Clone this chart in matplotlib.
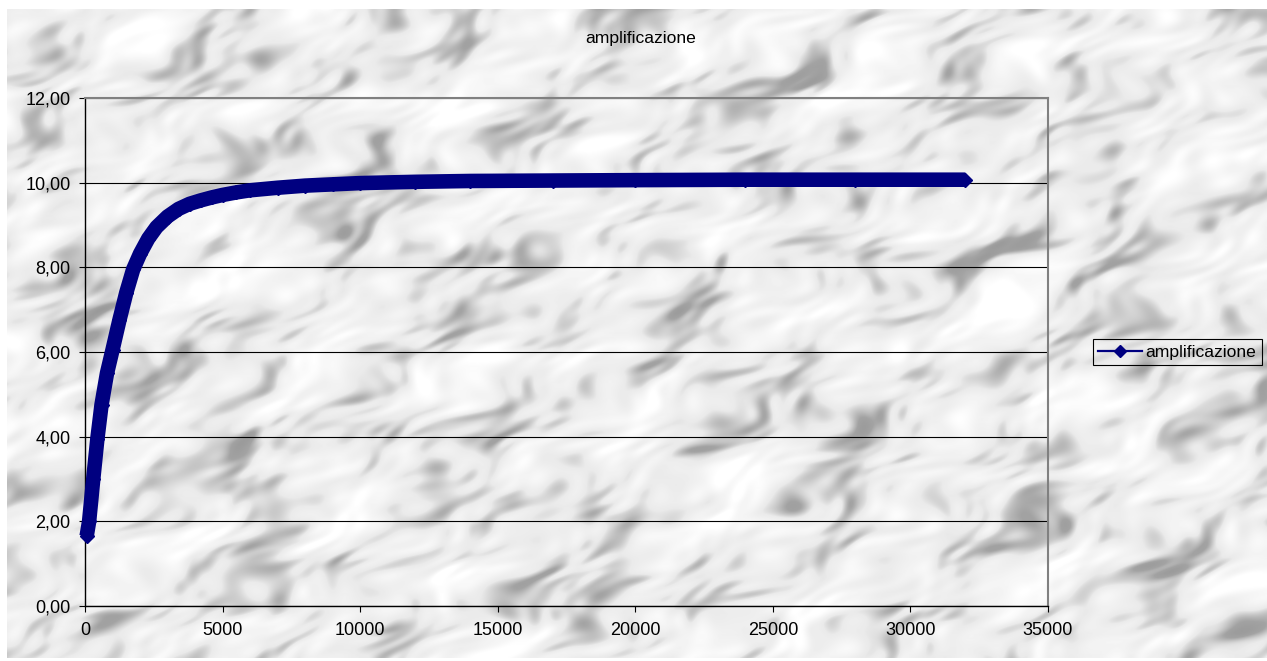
import numpy as np
import matplotlib.pyplot as plt
from matplotlib.lines import Line2D
from matplotlib.ticker import FuncFormatter

# frequency sweep and measured gain
freq = [60, 150, 300, 450, 600, 800, 1000, 1250, 1500, 1750, 2000, 2300, 2600,
        3000, 3400, 3800, 4200, 4600, 5000, 5500, 6000, 7000, 8000, 9000, 10000, 12000,
        14000, 17000, 20000, 24000, 28000, 32000]
gain = [1.65, 2.00, 3.00, 3.95, 4.75, 5.50, 6.05, 6.75, 7.40, 7.95, 8.32, 8.68, 8.95,
        9.20, 9.38, 9.50, 9.58, 9.65, 9.71, 9.77, 9.82, 9.88, 9.93, 9.96, 9.99, 10.02,
        10.04, 10.05, 10.06, 10.07, 10.07, 10.07]

xticks = list(range(0, 35001, 5000))
yticks = [0, 2, 4, 6, 8, 10, 12]
series_name = "amplificazione"
navy = "#000080"

plt.rcParams['font.family'] = ['Liberation Sans', 'DejaVu Sans']

W_PX, H_PX = 1267, 661
fig = plt.figure(figsize=(W_PX / 100, H_PX / 100), dpi=100, facecolor='white')

# grey marble backdrop: many sine waves at golden-angle directions,
# stretched along a diagonal so the streaks lean up to the right
H, W = 649, 1260
yy, xx = np.mgrid[0:H, 0:W].astype(float)
a = np.deg2rad(30)
u = xx * np.cos(a) - yy * np.sin(a)
v = xx * np.sin(a) + yy * np.cos(a)
warp = 9 * np.sin(0.031 * u + 0.9) * np.cos(0.047 * v + 0.4) + 5 * np.sin(0.07 * v - 0.05 * u)
field = np.zeros_like(xx)
for k in range(60):
    th = k * 2.39996
    f = 0.035 * 1.17 ** (k % 15)
    field += f ** -0.35 * np.sin(f * (np.cos(th) * (u + warp) * 0.6 + np.sin(th) * (v + warp) * 1.5)
                                 + k * 1.618)
field = (field - field.mean()) / field.std()
shade = 0.93 + 0.03 * field - 0.11 * np.clip(-field - 0.4, 0, 2)
marble = np.clip(shade, 0, 1)

bg = fig.add_axes([7 / W_PX, (H_PX - 658) / H_PX, W / W_PX, H / H_PX])
bg.imshow(marble, cmap='gray', vmin=0, vmax=1, aspect='auto', interpolation='bilinear')
bg.axis('off')

# plot area
left, right, top, bottom = 85, 1048, 98, 606
ax = fig.add_axes([left / W_PX, (H_PX - bottom) / H_PX,
                   (right - left) / W_PX, (bottom - top) / H_PX])
ax.set_facecolor('none')

ax.plot(freq, gain, color=navy, lw=10.5, marker='D', ms=7,
        solid_capstyle='butt', solid_joinstyle='round', clip_on=False, zorder=3)

ax.set_xlim(0, 35000)
ax.set_ylim(0, 12)
ax.set_xticks(xticks)
ax.set_yticks(yticks)
ax.yaxis.set_major_formatter(FuncFormatter(lambda v, p: f'{v:.2f}'.replace('.', ',')))
ax.grid(axis='y', color='black', lw=0.8)
ax.set_axisbelow(True)

for s in ['left', 'bottom']:
    ax.spines[s].set_color('black')
    ax.spines[s].set_linewidth(1.0)
for s in ['top', 'right']:
    ax.spines[s].set_color('#808080')
    ax.spines[s].set_linewidth(1.5)

ax.tick_params(direction='out', length=4.5, width=0.8, labelsize=13, colors='black')
ax.tick_params(axis='y', pad=6)
ax.tick_params(axis='x', pad=7)

fig.text(641 / W_PX, 1 - 38 / H_PX, series_name, ha='center', va='center', fontsize=12.6)

handle = Line2D([], [], color=navy, lw=1.6, marker='D', ms=6)
leg = ax.legend([handle], [series_name], loc='center left',
                bbox_to_anchor=(1093 / W_PX, 1 - 352 / H_PX), bbox_transform=fig.transFigure,
                fontsize=12.6, frameon=True, fancybox=False, framealpha=1,
                handlelength=2.5, handletextpad=0.2, borderpad=0.3, borderaxespad=0)
leg.get_frame().set_edgecolor('black')
leg.get_frame().set_linewidth(0.8)
leg.get_frame().set_facecolor('none')

fig.savefig('out.png', dpi=100, facecolor='white')
